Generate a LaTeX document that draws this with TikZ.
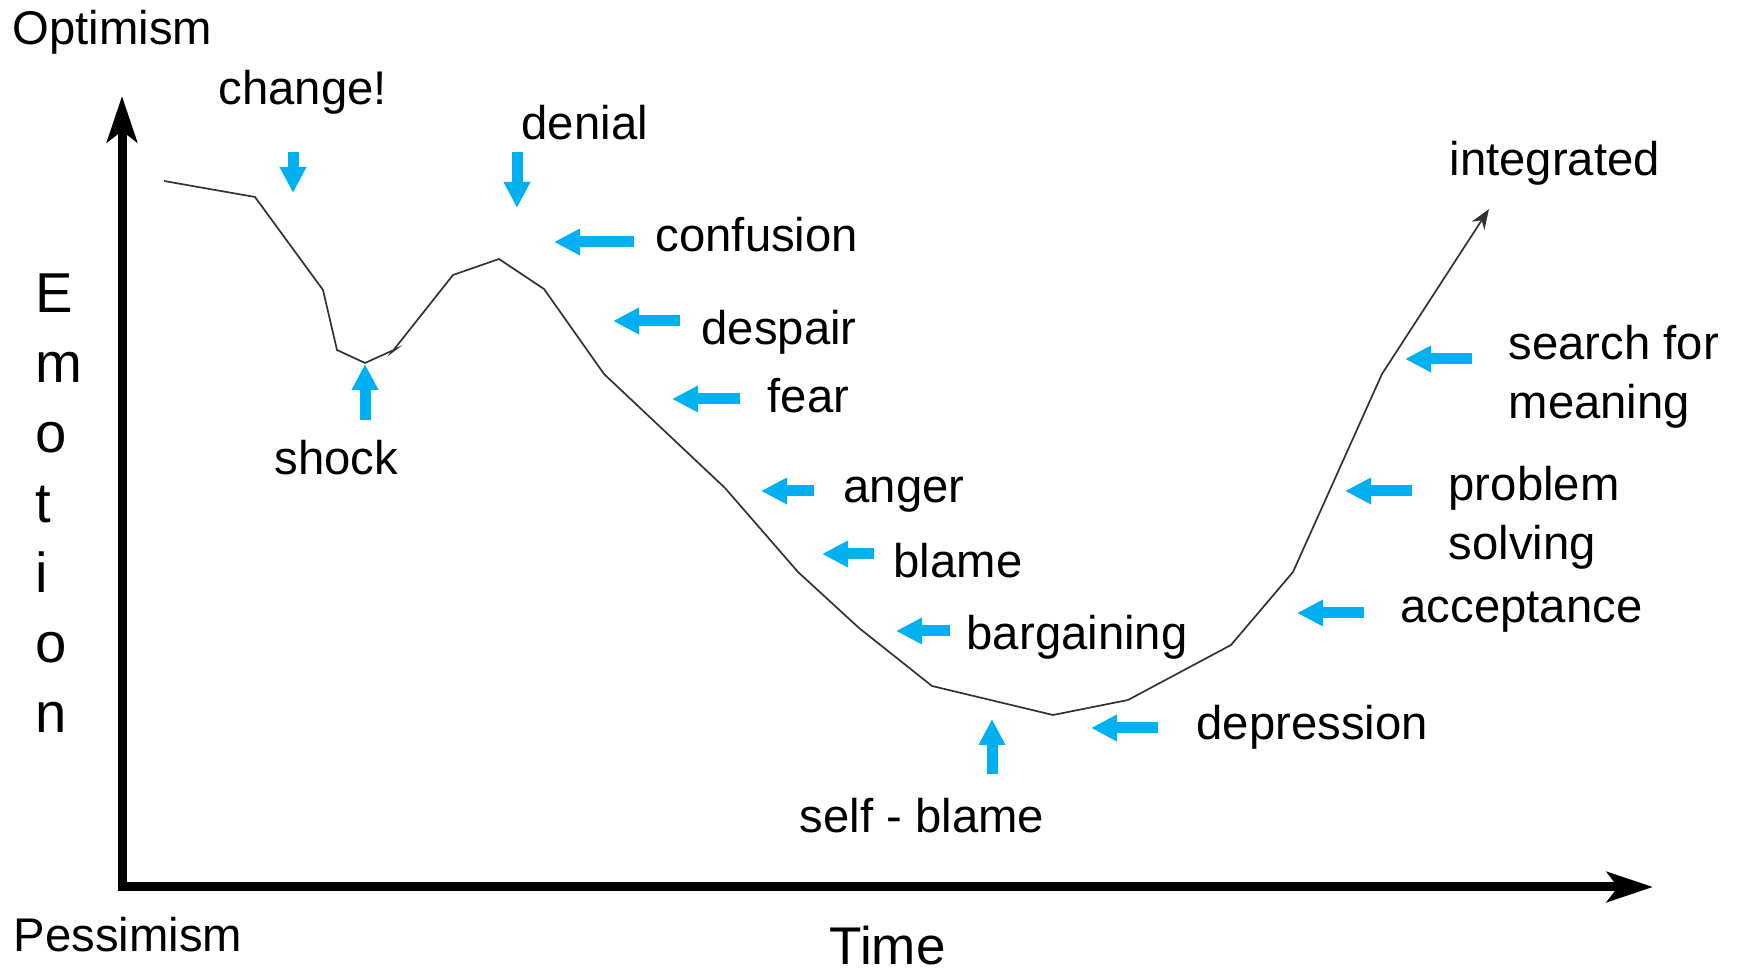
\documentclass[tikz,border=0pt]{standalone}
\usepackage{fontspec}
\setmainfont{Liberation Sans}
\usepackage{tikz}
\usetikzlibrary{arrows.meta}
\definecolor{pointerblue}{RGB}{0,176,240}
\definecolor{linegray}{RGB}{50,50,50}
\tikzstyle{axisline} = [line width=0.9mm, {Stealth[length=4.6mm,width=3mm,inset=1.1mm]}-{Stealth[length=4.6mm,width=3mm,inset=1.1mm]}]
\tikzstyle{pointer} = [line width=1.1mm, color=pointerblue, -{Triangle[length=2.6mm,width=2.5mm]}]
\tikzstyle{emoline} = [line width=0.17mm, color=linegray, -{Stealth[length=2mm,width=1.5mm]}]
\tikzstyle{stage} = [inner sep=0pt, anchor=base west, font=\fontsize{13.45pt}{16.6pt}\selectfont]

\begin{document}
\begin{tikzpicture}[x=0.1mm, y=-0.1mm]
		\useasboundingbox (0,0) rectangle (1738,973);
		% axes
		\coordinate (top) at (122,96);
		\coordinate (origin) at (122,887);
		\coordinate (right) at (1653,887);
		\draw[axisline] (top) -- (origin) -- (right);
		\node[stage] (optimism) at (12,45) {Optimism};
		\node[stage] (pessimism) at (13,952) {Pessimism};
		\node[stage, font=\fontsize{15.1pt}{17pt}\selectfont] (time) at (829,965) {Time};
		\node[inner sep=0pt, anchor=north west, align=left, font=\fontsize{16pt}{19.9pt}\selectfont] (emotion) at (35,273) {E\\m\\o\\t\\i\\o\\n};
		% the curve
		\draw[emoline] (164,181) -- (255,197) -- (323,290) -- (337,350) -- (365,363) -- (396,349) -- (392,352) -- (453,275) -- (499,259) -- (544,289) -- (604,374) -- (725,488) -- (798,572) -- (859,628) -- (932,686) -- (1053,715) -- (1128,700) -- (1231,645) -- (1293,572) -- (1382,374) -- (1489,209);
		% labels
		\node[stage] (change) at (218,105) {change!};
		\node[stage] (denial) at (521,140) {denial};
		\node[stage] (shock) at (274,475) {shock};
		\node[stage] (confusion) at (655,252) {confusion};
		\node[stage] (despair) at (701,345) {despair};
		\node[stage] (fear) at (767,413) {fear};
		\node[stage] (anger) at (843,503) {anger};
		\node[stage] (blame) at (893,578) {blame};
		\node[stage] (bargaining) at (966,650) {bargaining};
		\node[stage] (selfblame) at (799,833) {self - blame};
		\node[stage] (depression) at (1196,740) {depression};
		\node[stage] (acceptance) at (1400,623) {acceptance};
		\node[stage, anchor=north west, align=left] (problem) at (1448,466) {problem\\solving};
		\node[stage, anchor=north west, align=left] (search) at (1508,325) {search for\\meaning};
		\node[stage] (integrated) at (1449,176) {integrated};
		% arrow ends
		\coordinate (change-t) at (293,152);
		\coordinate (change-h) at (293,193);
		\coordinate (denial-t) at (517,152);
		\coordinate (denial-h) at (517,208);
		\coordinate (shock-t) at (365,420);
		\coordinate (shock-h) at (365,364);
		\coordinate (confusion-t) at (634,242);
		\coordinate (confusion-h) at (554,242);
		\coordinate (despair-t) at (680,321);
		\coordinate (despair-h) at (613,321);
		\coordinate (fear-t) at (740,399);
		\coordinate (fear-h) at (672,399);
		\coordinate (anger-t) at (814,491);
		\coordinate (anger-h) at (761,491);
		\coordinate (blame-t) at (874,554);
		\coordinate (blame-h) at (822,554);
		\coordinate (bargaining-t) at (950,631);
		\coordinate (bargaining-h) at (896,631);
		\coordinate (selfblame-t) at (992,774);
		\coordinate (selfblame-h) at (992,719);
		\coordinate (depression-t) at (1158,728);
		\coordinate (depression-h) at (1091,728);
		\coordinate (acceptance-t) at (1364,613);
		\coordinate (acceptance-h) at (1297,613);
		\coordinate (problem-t) at (1412,491);
		\coordinate (problem-h) at (1345,491);
		\coordinate (search-t) at (1472,359);
		\coordinate (search-h) at (1405,359);
		% pointers
		\draw[pointer] (change-t) -- (change-h);
		\draw[pointer] (denial-t) -- (denial-h);
		\draw[pointer] (shock-t) -- (shock-h);
		\draw[pointer] (confusion-t) -- (confusion-h);
		\draw[pointer] (despair-t) -- (despair-h);
		\draw[pointer] (fear-t) -- (fear-h);
		\draw[pointer] (anger-t) -- (anger-h);
		\draw[pointer] (blame-t) -- (blame-h);
		\draw[pointer] (bargaining-t) -- (bargaining-h);
		\draw[pointer] (selfblame-t) -- (selfblame-h);
		\draw[pointer] (depression-t) -- (depression-h);
		\draw[pointer] (acceptance-t) -- (acceptance-h);
		\draw[pointer] (problem-t) -- (problem-h);
		\draw[pointer] (search-t) -- (search-h);
		\end{tikzpicture}
\end{document}
